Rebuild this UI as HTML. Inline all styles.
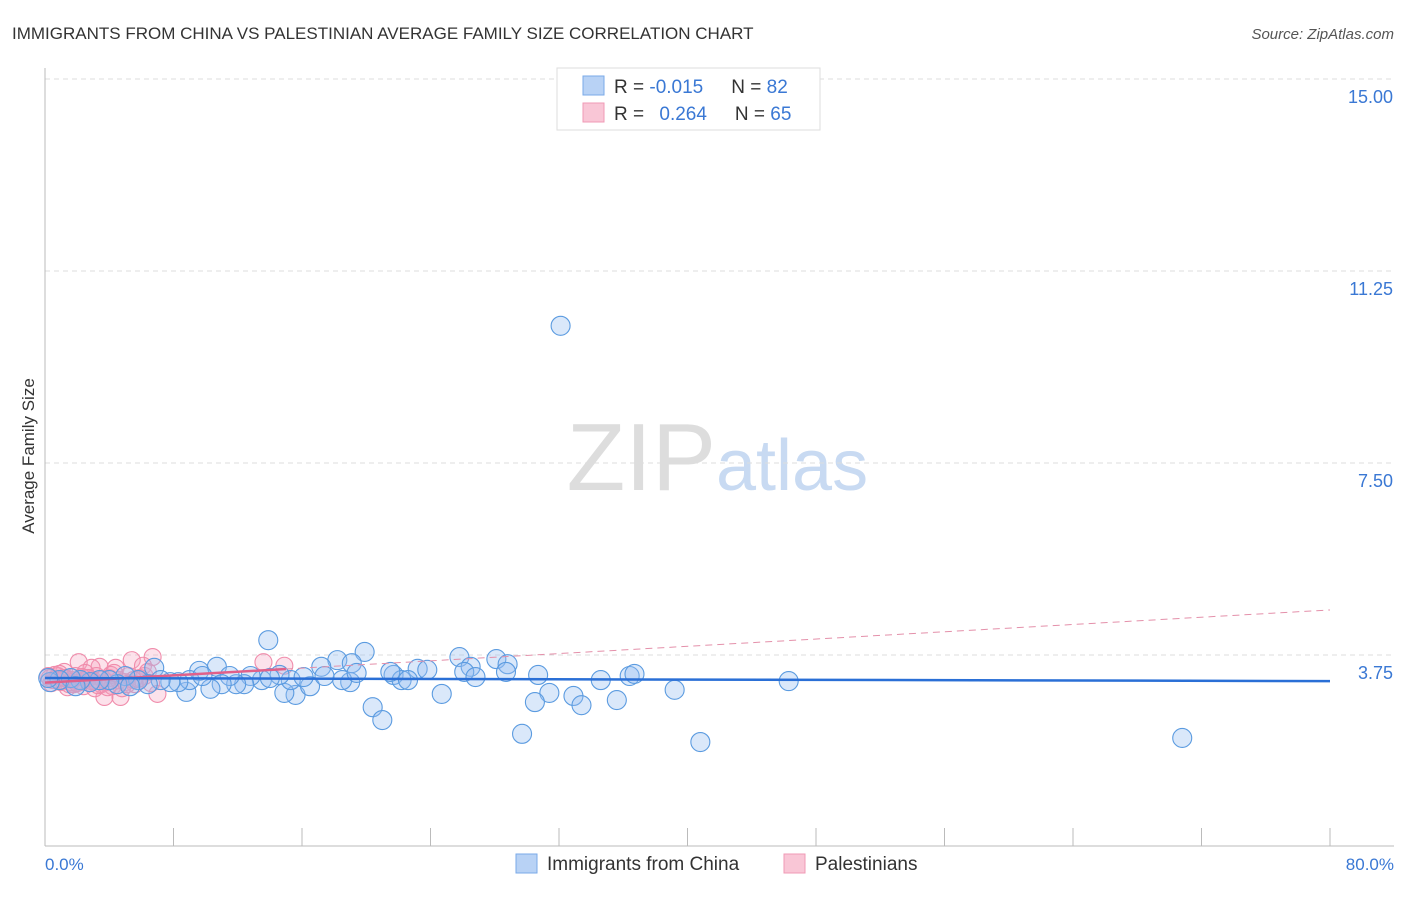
<!DOCTYPE html>
<html><head><meta charset="utf-8"><style>
body{margin:0;background:#fff;font-family:"Liberation Sans",sans-serif}
svg text{font-family:"Liberation Sans",sans-serif}
</style></head><body>
<svg id="c" width="1406" height="892" xmlns="http://www.w3.org/2000/svg">
<text x="12" y="39" font-size="17" fill="#333">IMMIGRANTS FROM CHINA VS PALESTINIAN AVERAGE FAMILY SIZE CORRELATION CHART</text>
<text x="1394" y="39" font-size="15" fill="#555" font-style="italic" text-anchor="end">Source: ZipAtlas.com</text>
<text x="716" y="490" font-size="96" fill="#ddd" text-anchor="end" font-family="Liberation Serif">ZIP</text>
<text x="716" y="490" font-size="72" fill="#c8daf2">atlas</text>
<g id="grid"></g><g id="axes"></g><g id="pts"></g><g id="trend"></g>
<text x="34" y="456" font-size="17" fill="#333" text-anchor="middle" transform="rotate(-90 34 456)">Average Family Size</text>
<text x="45" y="870" font-size="17" fill="#3a78d4">0.0%</text>
<text x="1394" y="870" font-size="17" fill="#3a78d4" text-anchor="end">80.0%</text>
<g>
<rect x="557" y="68" width="263" height="62" fill="#fff" stroke="#ddd"/>
<rect x="583" y="76" width="21" height="19" fill="#b8d2f5" stroke="#7aaae8"/>
<rect x="583" y="103" width="21" height="19" fill="#f9c6d6" stroke="#f09ab5"/>
<text x="614" y="93" font-size="19" fill="#333">R = <tspan fill="#3a78d4">-0.015</tspan><tspan dx="28">N = </tspan><tspan fill="#3a78d4">82</tspan></text>
<text x="614" y="120" font-size="19" fill="#333">R = <tspan fill="#3a78d4" dx="10">0.264</tspan><tspan dx="28">N = </tspan><tspan fill="#3a78d4">65</tspan></text>
</g>
<g>
<rect x="516" y="854" width="21" height="19" fill="#b8d2f5" stroke="#7aaae8"/>
<text x="547" y="870" font-size="19" fill="#333">Immigrants from China</text>
<rect x="784" y="854" width="21" height="19" fill="#f9c6d6" stroke="#f09ab5"/>
<text x="815" y="870" font-size="19" fill="#333">Palestinians</text>
</g>
</svg>
<script>
const yTicks=[3.75,7.5,11.25,15];
const yTickLabels=["3.75","7.50","11.25","15.00"];
const blueX=[32.1,13.9,19.9,18.2,25.8,28.1,28.8,17.2,19.1,10.7,9.6,6.8,23.2,23.8,26.5,26.1,26.8,28.7,30.7,36.4,36.7,34.6,46.3,39.2,31.4,32.9,33.4,35.6,30.5,24.7,20.4,21.0,29.7,40.8,70.8,19.0,18.5,21.7,22.2,22.6,15.6,14.9,16.5,15.3,14.6,16.1,13.5,12.8,12.4,11.9,11.5,11.0,10.3,8.8,9.0,8.3,7.8,7.2,6.4,5.8,5.0,4.5,4.0,3.4,2.8,2.2,1.6,0.9,0.3,0.2,9.8,14.0,17.4,19.4,21.5,5.3,1.9];
const blueY=[10.18,4.04,3.81,3.65,3.71,3.67,3.57,3.52,3.59,3.52,3.44,3.50,3.48,3.46,3.52,3.42,3.32,3.42,3.36,3.34,3.38,3.26,3.24,3.07,3.01,2.95,2.77,2.87,2.83,2.99,2.73,2.48,2.21,2.05,2.13,3.22,3.26,3.36,3.26,3.26,2.97,3.01,3.14,3.26,3.36,3.32,3.26,3.34,3.18,3.18,3.34,3.18,3.09,3.03,3.26,3.22,3.22,3.26,3.18,3.26,3.34,3.18,3.26,3.26,3.22,3.26,3.30,3.26,3.22,3.30,3.34,3.30,3.34,3.40,3.42,3.14,3.14];
const pinkX=[6.7,2.1,5.4,6.1,13.6,14.9,3.4,2.9,4.4,1.2,0.6,3.7,4.7,7.0,6.2,0.3,0.5,0.8,1.0,1.3,1.5,1.7,1.9,2.2,2.4,2.6,2.8,3.0,3.2,3.5,3.8,4.0,4.2,4.6,5.0,5.2,5.6,5.9,6.4,0.4,0.9,1.4,2.0,2.5,3.1,3.6,4.1,1.1,1.8,2.7,0.7,1.6,2.3,3.3,4.8,5.5,6.6,0.2,1.2,2.0,2.9,3.9,4.3,5.1,5.8];
const pinkY=[3.71,3.61,3.65,3.54,3.61,3.54,3.52,3.50,3.50,3.42,3.36,2.93,2.93,2.99,3.34,3.30,3.26,3.34,3.22,3.30,3.18,3.26,3.34,3.22,3.14,3.30,3.20,3.26,3.34,3.18,3.22,3.30,3.14,3.26,3.22,3.34,3.18,3.30,3.42,3.20,3.38,3.12,3.24,3.40,3.10,3.28,3.36,3.26,3.18,3.30,3.28,3.22,3.32,3.16,3.10,3.26,3.20,3.34,3.30,3.20,3.24,3.12,3.40,3.18,3.28];
const blueTrend=[3.30,3.24];
const pinkTrend=[3.21,4.63];
const X=v=>45+v/80*1285, Y=v=>847-v/3.75*192;
const NS="http://www.w3.org/2000/svg";
function mk(p,t,a){const e=document.createElementNS(NS,t);for(const k in a)e.setAttribute(k,a[k]);document.getElementById(p).appendChild(e);return e;}
yTicks.forEach((t,i)=>{
 const g=mk('grid','line',{x1:45,x2:1394,y1:Y(t),y2:Y(t),stroke:'#ddd','stroke-dasharray':'5,4'});
 
 
 const l=mk('grid','text',{x:1393,y:Y(t)+24,'font-size':18,fill:'#3a78d4','text-anchor':'end'});
 l.textContent=yTickLabels[i];
 
 
});
const ax=mk('axes','line',{x1:45,x2:45,y1:68,y2:846,stroke:'#bbb'});


const bx=mk('axes','line',{x1:45,x2:1394,y1:846,y2:846,stroke:'#bbb'});


for(let i=1;i<=10;i++){const t=mk('axes','line',{x1:X(i*8),x2:X(i*8),y1:828,y2:846,stroke:'#bbb'});
 
 }
pinkX.forEach((x,i)=>{const c=mk('pts','circle',{cx:X(x),cy:Y(pinkY[i]),r:8.5,fill:'rgba(245,160,190,0.3)',stroke:'#f08cab','stroke-width':1.1});
 
 });
blueX.forEach((x,i)=>{const c=mk('pts','circle',{cx:X(x),cy:Y(blueY[i]),r:9.5,fill:'rgba(150,190,240,0.35)',stroke:'#5b9be0','stroke-width':1.1});
 
 });
const pk=v=>pinkTrend[0]+(pinkTrend[1]-pinkTrend[0])*v/80;
const p1=mk('trend','line',{x1:X(0),x2:X(15),y1:Y(pk(0)),y2:Y(pk(15)),stroke:'#e0608a','stroke-width':2.5});


const p2=mk('trend','line',{x1:X(15),x2:X(80),y1:Y(pk(15)),y2:Y(pk(80)),stroke:'#e490aa','stroke-width':1,'stroke-dasharray':'7,5'});


const b=mk('trend','line',{x1:X(0),x2:X(80),y1:Y(blueTrend[0]),y2:Y(blueTrend[1]),stroke:'#2a6fd6','stroke-width':2.5});


</script>
</body></html>
